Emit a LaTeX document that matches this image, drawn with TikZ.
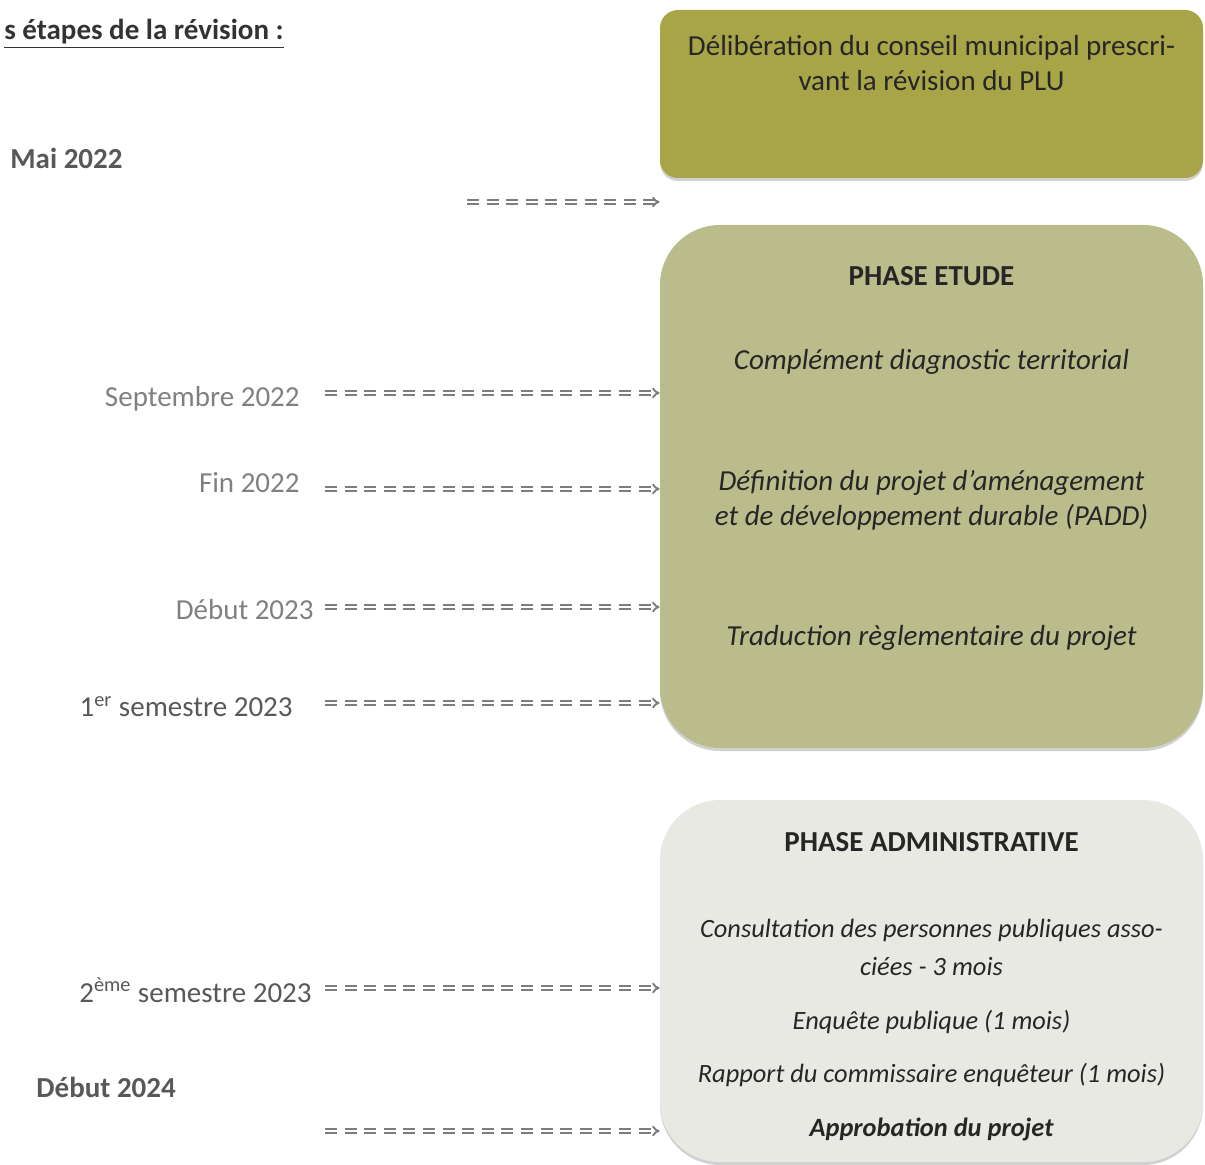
\documentclass[tikz,border=0pt]{standalone}
\usepackage{fontspec}
\setmainfont{Carlito}
\usepackage{xcolor}
\usepackage{tikz}
\usetikzlibrary{positioning,arrows.meta,shadows}

\definecolor{olivebox}{RGB}{168,164,72}
\definecolor{etudebox}{RGB}{187,188,140}
\definecolor{adminbox}{RGB}{233,233,228}
\definecolor{arrowgray}{RGB}{125,125,125}
\definecolor{lightlabel}{RGB}{128,128,128}
\definecolor{darklabel}{RGB}{88,88,88}

\begin{document}
\begin{tikzpicture}[x=0.5pt, y=-0.5pt, font=\fontsize{14.5}{17}\selectfont, text=black!85]
  % Styles
  \tikzstyle{phase}=[rectangle, inner sep=0pt, minimum width=271.5pt, drop shadow={shadow xshift=0pt, shadow yshift=-1.5pt, opacity=0.3, fill=black!60}]
  \tikzstyle{boxline}=[anchor=base, align=center]
  \tikzstyle{date}=[anchor=base east, inner sep=0pt]
  \tikzstyle{timeline}=[draw=arrowgray, double=white, double distance=0.7pt, line width=0.95pt, dash pattern=on 6pt off 3.8pt, -{Implies[length=4pt, width=8pt]}]

  \useasboundingbox (0,0) rectangle (1205,1165);

  % Title
  \node[anchor=base east, inner sep=0pt, font=\fontsize{14.5}{17}\selectfont\bfseries, text=black!80] (title) at (284,40) {\underline{s étapes de la révision :}};

  % Boxes
  \node[phase, fill=olivebox, rounded corners=9pt, minimum height=84pt] (delib) at (931.5,94) {};
  \node[phase, fill=etudebox, rounded corners=30pt, minimum height=261.5pt] (etude) at (931.5,486.5) {};
  \node[phase, fill=adminbox, rounded corners=30pt, minimum height=181pt] (admin) at (931.5,981) {};

  % Box texts
  \node[align=center, font=\fontsize{14.5}{17.5}\selectfont] (delibtext) at (931.5,63) {Délibération du conseil municipal prescri-\\vant la révision du PLU};
  \node[boxline, font=\fontsize{14.5}{17}\selectfont\bfseries] (etudetitle) at (931.5,286) {PHASE ETUDE};
  \node[boxline, font=\fontsize{14.5}{17}\selectfont\itshape] (diag) at (931.5,370) {Complément diagnostic territorial};
  \node[align=center, font=\fontsize{14.5}{17.5}\selectfont\itshape] (padd) at (931.5,500) {Définition du projet d’aménagement\\et de développement durable (PADD)};
  \node[boxline, font=\fontsize{14.5}{17}\selectfont\itshape] (trad) at (931.5,646) {Traduction règlementaire du projet};
  \node[boxline, font=\fontsize{14.5}{17}\selectfont\bfseries] (admintitle) at (931.5,851) {PHASE ADMINISTRATIVE};
  \node[align=center, font=\fontsize{13.2}{19}\selectfont\itshape] (ppa) at (931.5,947) {Consultation des personnes publiques asso-\\ciées - 3 mois};
  \node[boxline, font=\fontsize{13.2}{16}\selectfont\itshape] (enquete) at (931.5,1029) {Enquête publique (1 mois)};
  \node[boxline, font=\fontsize{13.2}{16}\selectfont\itshape] (rapport) at (931.5,1082) {Rapport du commissaire enquêteur (1 mois)};
  \node[boxline, font=\fontsize{13.2}{16}\selectfont\bfseries\itshape] (approb) at (931.5,1136) {Approbation du projet};

  % Dates
  \node[anchor=base west, inner sep=0pt, font=\fontsize{14.5}{17}\selectfont\bfseries, text=darklabel] (mai) at (10,169) {Mai 2022};
  \node[date, text=lightlabel] (sept) at (300,407) {Septembre 2022};
  \node[date, text=lightlabel] (fin) at (300,493) {Fin 2022};
  \node[date, text=lightlabel] (debut23) at (314,620) {Début 2023};
  \node[date, text=darklabel] (sem1) at (293,717) {1\textsuperscript{er} semestre 2023};
  \node[date, text=darklabel] (sem2) at (312,1002) {2\textsuperscript{ème} semestre 2023};
  \node[anchor=base west, inner sep=0pt, font=\fontsize{14.5}{17}\selectfont\bfseries, text=darklabel] (debut24) at (36,1097) {Début 2024};

  % Arrow starts
  \coordinate (amai) at (467,202);
  \coordinate (asept) at (325,393);
  \coordinate (afin) at (325,489);
  \coordinate (adebut23) at (325,607);
  \coordinate (asem1) at (325,703);
  \coordinate (asem2) at (325,988);
  \coordinate (adebut24) at (325,1131);

  % Arrows
  \draw[timeline] (amai) -- (amai -| delib.west);
  \draw[timeline] (asept) -- (asept -| etude.west);
  \draw[timeline] (afin) -- (afin -| etude.west);
  \draw[timeline] (adebut23) -- (adebut23 -| etude.west);
  \draw[timeline] (asem1) -- (asem1 -| etude.west);
  \draw[timeline] (asem2) -- (asem2 -| admin.west);
  \draw[timeline] (adebut24) -- (adebut24 -| admin.west);
\end{tikzpicture}
\end{document}
